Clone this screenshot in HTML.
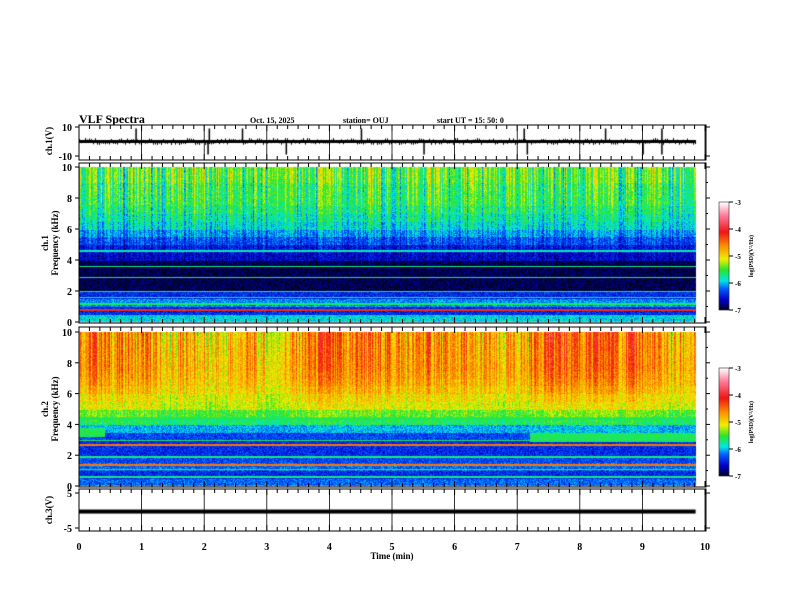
<!DOCTYPE html>
<html><head><meta charset="utf-8"><style>
html,body{margin:0;padding:0;background:#fff;width:792px;height:612px;overflow:hidden}
#wrap{position:relative;width:792px;height:612px}
canvas,svg{position:absolute;left:0;top:0}
text{font-family:"Liberation Serif",serif;font-weight:bold;fill:#000}
</style></head><body>
<div id="wrap">
<canvas id="cv" width="792" height="612"></canvas>
<svg id="sv" width="792" height="612"></svg>
</div>
<script>
// ---- data ----
const freqBins = [0.25,0.75,1.25,1.75,2.25,2.75,3.25,3.75,4.25,4.75,5.25,5.75,6.25,6.75,7.25,7.75,8.25,8.75,9.25,9.75];
const ch1Profile = [-5.9,-6.4,-6.1,-6.4,-6.9,-6.9,-6.9,-6.9,-6.6,-6.5,-6.3,-6.1,-5.9,-5.8,-5.7,-5.6,-5.6,-5.6,-5.5,-5.5];
const ch2Profile = [-6.2,-6.4,-6.2,-6.3,-6.4,-6.4,-6.3,-6.0,-5.6,-5.4,-5.1,-5.0,-4.85,-4.75,-4.7,-4.65,-4.65,-4.65,-4.65,-4.65];
const timeCols = [];
for (let i=0;i<49;i++) timeCols.push(i*0.2+0.1);
const ch1Activity = [0.3,0.2,0.4,0.1,0.3,0.2,0.1,0.3,0.2,0.4,0.1,0.2,0.3,0.1,0.2,0.3,0.4,0.2,0.1,0.3,0.2,0.1,0.2,0.3,0.2,0.1,0.3,0.2,0.4,0.1,0.2,0.3,0.2,0.1,0.2,0.4,0.3,0.2,0.1,0.3,0.2,0.3,0.4,0.2,0.1,0.3,0.2,0.1,0.2];
const ch2Activity = [0.3,0.4,0.2,0.3,0.1,0.2,0.0,-0.1,0.1,0.0,-0.2,-0.1,0.0,0.1,-0.1,-0.2,0.0,0.1,0.3,0.4,0.3,0.2,0.4,0.2,0.3,0.2,0.1,0.3,0.2,0.1,0.2,0.0,0.1,-0.1,0.0,0.1,0.4,0.5,0.4,0.5,0.3,0.4,0.5,0.3,0.4,0.2,0.1,0.0,0.1];
const ch1Lines = [0.8,1.2,1.6,2.0,2.9,3.6,4.6];
const ch1LineVals = [-4.2,-5.6,-5.7,-5.7,-5.7,-5.7,-5.8];
const ch2Lines = [0.6,1.1,1.4,1.9,2.7,3.0,4.4];
const ch2LineVals = [-5.7,-5.6,-4.5,-5.7,-4.5,-5.6,-5.6];
const ch2BandStart = [0.0,7.2];
const ch2BandEnd = [0.4,9.85];
const ch2BandLo = [3.2,2.9];
const ch2BandHi = [3.8,3.5];
const ch1Spikes = [[0.9,1],[2.05,-1],[2.07,1],[2.6,1],[3.3,-1],[4.5,1],[5.5,-1],[7.1,1],[7.15,-1],[8.4,1],[9.0,-1],[9.3,-1],[9.3,1]];
const ch3Level = -0.3;

// ---- axes geometry ----
const X0=79, X1=705, DATA_END=9.85;
const xS = t => X0 + t*(X1-X0)/10;
const P = {
 p1:{top:125,bot:160,vt:10,vb:-10,yT:127,yB:156},
 p2:{top:163,bot:323,yT:167,yB:322},
 p3:{top:327,bot:487,yT:332,yB:486},
 p4:{top:489,bot:531,yT:493,yB:528}
};
const fy = (p,f)=> p.yB - f/10*(p.yB-p.yT);

function cmap(v){
 const s=[[-7,[0,0,30]],[-6.6,[0,0,200]],[-6.2,[0,90,255]],[-5.9,[0,230,230]],[-5.5,[40,230,40]],[-5.1,[240,240,0]],[-4.6,[255,140,0]],[-4.1,[240,20,20]],[-3.5,[255,120,150]],[-3,[255,255,255]]];
 if(v<=s[0][0]) return s[0][1];
 for(let i=1;i<s.length;i++){ if(v<=s[i][0]){const a=s[i-1],b=s[i];const t=(v-a[0])/(b[0]-a[0]);return a[1].map((c,k)=>Math.round(c+t*(b[1][k]-c)));}}
 return s[s.length-1][1];
}
function tex(x,y){ // deterministic streak texture
 const h=Math.sin(x*12.9898+ y*0.7)*43758.5453; return (h-Math.floor(h))-0.5;
}
const cv=document.getElementById('cv'),ctx=cv.getContext('2d');
function drawSpec(p,prof,act,lines,lineVals,ch2){
 const x0=Math.round(xS(0)),x1=Math.round(xS(DATA_END));
 const img=ctx.createImageData(x1-x0,p.yB-p.yT);
 for(let px=x0;px<x1;px++){
  const t=(px-X0)/(X1-X0)*10;
  const ci=Math.min(act.length-1,Math.floor(t/0.2));
  const streak=tex(px,0)*1.4;
  for(let py=p.yT;py<p.yB;py++){
   const f=(p.yB-py)/(p.yB-p.yT)*10;
   const bi=Math.min(prof.length-1,Math.floor(f/0.5));
   const w=Math.max(0,(f-3)/7);
   let v=prof[bi]+ (act[ci]-0.2+streak*0.6)*w*1.3 + tex(px,py)*0.45;
   if(ch2){for(let k=0;k<ch2BandStart.length;k++){if(t>=ch2BandStart[k]&&t<ch2BandEnd[k]&&f>=ch2BandLo[k]&&f<ch2BandHi[k])v=-5.6+tex(px,py)*0.3;}}
   for(let k=0;k<lines.length;k++){ if(Math.abs(f-lines[k])<0.05) v=lineVals[k]; }
   const c=cmap(v); const o=((py-p.yT)*(x1-x0)+(px-x0))*4;
   img.data[o]=c[0];img.data[o+1]=c[1];img.data[o+2]=c[2];img.data[o+3]=255;
  }
 }
 ctx.putImageData(img,x0,p.yT);
}
drawSpec(P.p2,ch1Profile,ch1Activity,ch1Lines,ch1LineVals,false);
drawSpec(P.p3,ch2Profile,ch2Activity,ch2Lines,ch2LineVals,true);
// colorbars
function cbar(y0,y1){for(let y=y0;y<y1;y++){const v=-3-4*(y-y0)/(y1-y0);const c=cmap(v);ctx.fillStyle=`rgb(${c})`;ctx.fillRect(719,y,10,1);}}
cbar(202,310);cbar(368,476);
// ch1 waveform
const vy1 = v=> P.p1.yB - (v-P.p1.vb)/(P.p1.vt-P.p1.vb)*(P.p1.yB-P.p1.yT);
ctx.fillStyle='#000';
ctx.fillRect(xS(0),vy1(0)-1.5,xS(DATA_END)-xS(0),3);
for(let px=Math.round(xS(0));px<xS(DATA_END);px+=2){const a=tex(px,3)*4;ctx.fillRect(px,vy1(0)-1.5+Math.min(0,a),1,Math.abs(a)+3);}
ch1Spikes.forEach(s=>{const x=xS(s[0]);ctx.fillRect(x,Math.min(vy1(0),vy1(s[1]*9)),1.5,Math.abs(vy1(s[1]*9)-vy1(0)));});
// ch3
const vy4 = v=> P.p4.yB - (v+5)/10*(P.p4.yB-P.p4.yT);
ctx.fillRect(xS(0),vy4(ch3Level)-2,xS(DATA_END)-xS(0),4);

// ---- SVG axes ----
const sv=document.getElementById('sv'),NS='http://www.w3.org/2000/svg';
function el(tag,attrs,txt){const e=document.createElementNS(NS,tag);for(const k in attrs)e.setAttribute(k,attrs[k]);if(txt!==undefined)e.textContent=txt;sv.appendChild(e);return e;}
function frame(p,name){const r=el('rect',{x:X0,y:p.top,width:X1+1-X0,height:p.bot-p.top,fill:'none',stroke:'#000','stroke-width':1});
 
 
 for(let i=0;i<=60;i++){const x=xS(i/6);const L=i%6===0?6:4;
  el('line',{x1:x,x2:x,y1:p.top,y2:p.top+L,stroke:'#000'});el('line',{x1:x,x2:x,y1:p.bot,y2:p.bot-L,stroke:'#000'});
  if(i%6===0) el('line',{x1:x,x2:x,y1:p.top,y2:p.bot,stroke:'#000','stroke-width':0.8,opacity:p===P.p2||p===P.p3?0:1});}
}
frame(P.p1,'ch1-waveform-frame');frame(P.p2,'ch1-spectrogram-frame');frame(P.p3,'ch2-spectrogram-frame');frame(P.p4,'ch3-waveform-frame');
function yticks(p,vals,pos,labels){vals.forEach((v,i)=>{const y=pos(v);el('line',{x1:X0-4,x2:X0,y1:y,y2:y,stroke:'#000'});el('line',{x1:X1+1,x2:X1+5,y1:y,y2:y,stroke:'#000'});
 const t=el('text',{x:X0-7,y:y+4,'text-anchor':'end','font-size':10},labels[i]);});}
const fTicks=[0,2,4,6,8,10];
yticks(P.p1,[10,-10],vy1,['10','-10']);
yticks(P.p2,fTicks,f=>fy(P.p2,f),fTicks.map(String));
yticks(P.p3,fTicks,f=>fy(P.p3,f),fTicks.map(String));
yticks(P.p4,[5,-5],vy4,['5','-5']);
[P.p2,P.p3].forEach(p=>{for(let f=1;f<10;f+=2){const y=fy(p,f);el('line',{x1:X1+1,x2:X1+3,y1:y,y2:y,stroke:'#000'});}});
for(let i=0;i<=10;i++){const t=el('text',{x:xS(i),y:550,'text-anchor':'middle','font-size':10},String(i));}
function lbl(txt,x,y,fs,name,rot){const a={x:x,y:y,'font-size':fs};if(rot){a.transform=`rotate(-90 ${x} ${y})`;a['text-anchor']='middle';}const t=el('text',a,txt);return t;}
lbl('Time  (min)',xS(5),559,9,'x-axis-title').setAttribute('text-anchor','middle');
lbl('VLF Spectra',79,123,12,'chart-title');
lbl('Oct. 15, 2025',250,123,8,'date-label');
lbl('station= OUJ',343,123,8,'station-label');
lbl('start  UT =   15: 50: 0',437,123,8,'start-time-label');
lbl('ch.1(V)',52,141,9,'ch1-waveform-y-title',true);
lbl('ch.1',48,243,9,'ch1-spectrum-y-title',true);
lbl('Frequency  (kHz)',58,243,9,'ch1-frequency-y-title',true);
lbl('ch.2',48,409,9,'ch2-spectrum-y-title',true);
lbl('Frequency  (kHz)',58,409,9,'ch2-frequency-y-title',true);
lbl('ch.3(V)',52,510,9,'ch3-waveform-y-title',true);
// colorbar axes
function cbAxis(y0,y1,n){el('rect',{x:719,y:y0,width:10,height:y1-y0,fill:'none',stroke:'#000','stroke-width':0.5});
 [-3,-4,-5,-6,-7].forEach((v,i)=>{const y=y0+(y1-y0)*i/4;el('line',{x1:729,x2:733,y1:y,y2:y,stroke:'#000'});lbl(String(v),735,y+3,7,'colorbar-tick-label');});
 lbl('log(PSD)(V\u00B2/Hz)',753,(y0+y1)/2,6,n,true);}
cbAxis(202,310,'colorbar-ch1-title');cbAxis(368,476,'colorbar-ch2-title');
</script>
</body></html>
